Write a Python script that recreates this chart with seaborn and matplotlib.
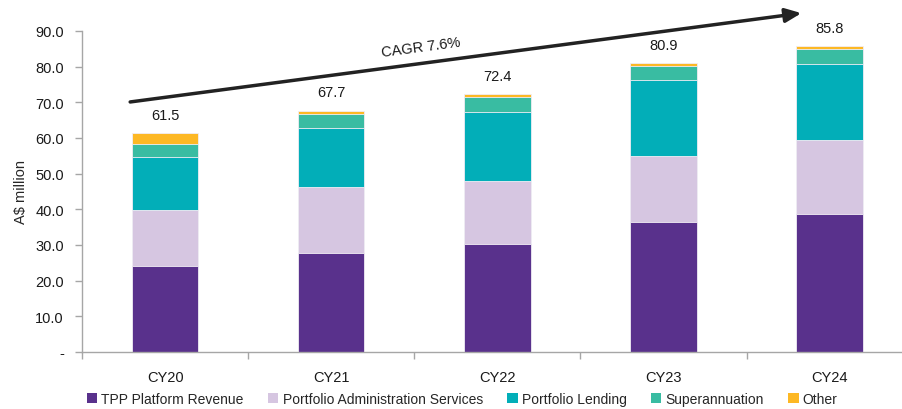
import matplotlib
matplotlib.use("Agg")
import matplotlib.pyplot as plt
from matplotlib.patches import Patch
import numpy as np
import pandas as pd
import seaborn as sns

years = ["CY20", "CY21", "CY22", "CY23", "CY24"]
tpp = [24.1, 27.7, 30.3, 36.4, 38.6]
admin = [15.7, 18.6, 17.7, 18.5, 20.9]
lending = [15.0, 16.4, 19.4, 21.4, 21.2]
super_ann = [3.5, 4.0, 4.2, 4.0, 4.2]
other = [3.2, 1.0, 0.8, 0.6, 0.9]
totals = [61.5, 67.7, 72.4, 80.9, 85.8]

series_names = ["TPP Platform Revenue", "Portfolio Administration Services",
                "Portfolio Lending", "Superannuation", "Other"]
colors = ["#59318C", "#D6C6E1", "#02AEB8", "#39BCA2", "#FDB824"]

sns.set_theme(style="white")
plt.rcParams["font.family"] = ["Liberation Sans", "DejaVu Sans"]

df = pd.DataFrame({"year": years, "tpp": tpp, "admin": admin,
                   "lending": lending, "super": super_ann, "other": other})
cols = ["tpp", "admin", "lending", "super", "other"]
cum = df[cols].cumsum(axis=1)

fig = plt.figure(figsize=(9.03, 4.10), dpi=100)
ax = fig.add_axes([0.0908, 0.139, 0.920, 0.783])

# draw cumulative stacks from the top down so each layer shows its own segment
for col, color in reversed(list(zip(cols, colors))):
    sns.barplot(x=df["year"], y=cum[col], color=color, width=0.4,
                edgecolor="#f2eef5", linewidth=0.6, saturation=1, ax=ax)

ax.set_xlim(-0.5, 4.5)
ax.set_ylim(0, 90)
ax.set_yticks(np.arange(0, 91, 10))
ax.set_yticklabels(["-"] + [f"{v:.1f}" for v in np.arange(10, 91, 10)])
ax.set_xlabel("")
ax.set_ylabel("A$ million", fontsize=10.5, labelpad=5)

for s in ["top", "right"]:
    ax.spines[s].set_visible(False)
for s in ["left", "bottom"]:
    ax.spines[s].set_color("#a6a6a6")
    ax.spines[s].set_linewidth(1.0)

ax.tick_params(axis="y", which="major", left=True, length=5, width=1,
               color="#a6a6a6", pad=8, labelsize=10.5, labelcolor="#1a1a1a")
ax.tick_params(axis="x", which="major", bottom=False, pad=7,
               labelsize=10.5, labelcolor="#1a1a1a")
ax.set_xticks(np.arange(-0.5, 5, 1), minor=True)
ax.tick_params(axis="x", which="minor", bottom=True, length=5, width=1,
               color="#a6a6a6")

for i, t in enumerate(totals):
    ax.annotate(f"{t:.1f}", (i, t), xytext=(0, 13), textcoords="offset points",
                ha="center", va="center", fontsize=10.5, color="#1a1a1a")

# CAGR arrow
ax.annotate("", xy=(3.83, 95.0), xytext=(-0.21, 70.1),
            arrowprops=dict(arrowstyle="-|>,head_length=0.8,head_width=0.35",
                            color="#222222", lw=2.5, shrinkA=0, shrinkB=0),
            annotation_clip=False)
ax.text(1.54, 85.6, "CAGR 7.6%", rotation=7.5, ha="center", va="center",
        fontsize=10.5, color="#1a1a1a")

handles = [Patch(facecolor=c, edgecolor="none") for c in colors]
fig.legend(handles, series_names, loc="center left", bbox_to_anchor=(0.096, 0.025),
           ncol=5, frameon=False, fontsize=10, handlelength=0.75,
           handleheight=0.75, handletextpad=0.3, columnspacing=1.75,
           borderaxespad=0, borderpad=0)

fig.savefig("out.png", dpi=100)
